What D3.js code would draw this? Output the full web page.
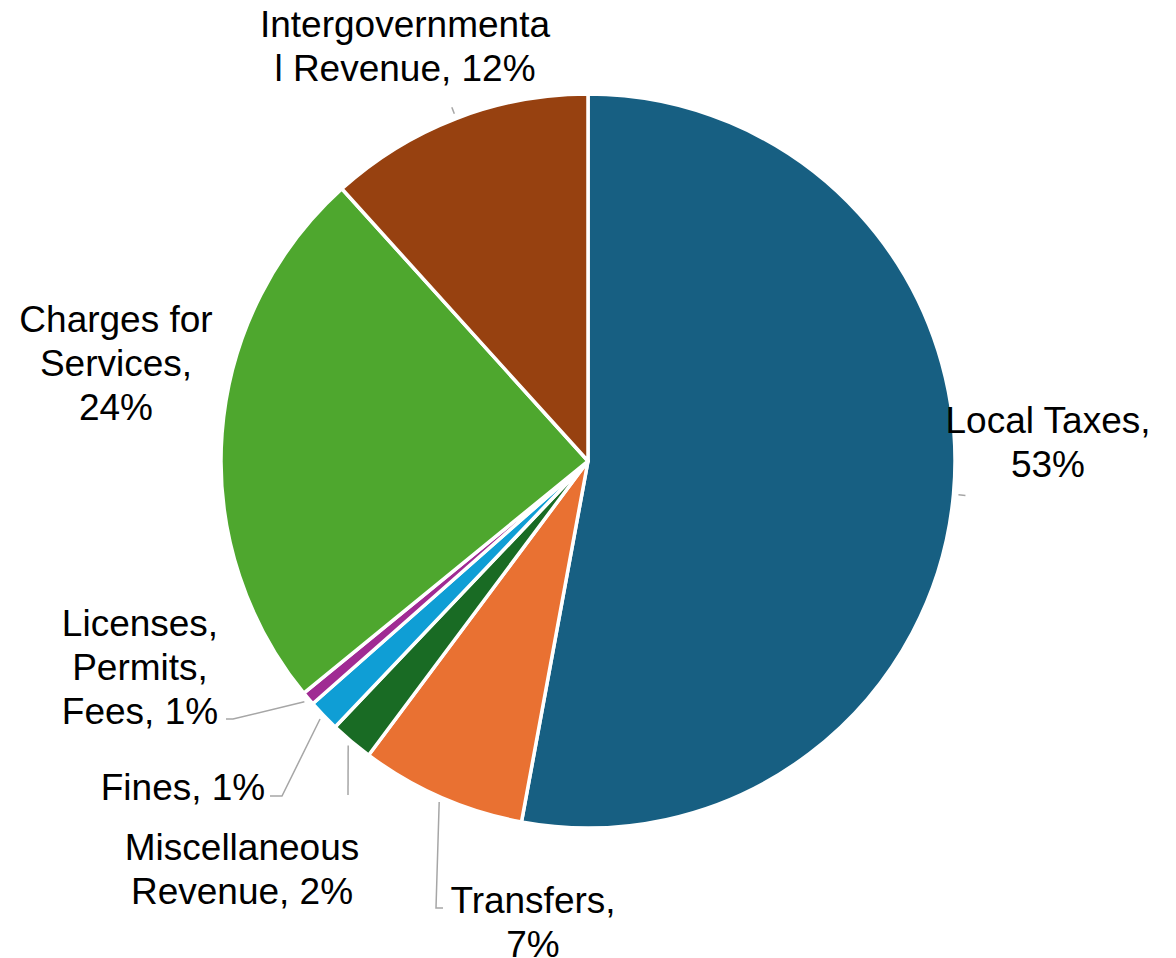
<!DOCTYPE html>
<html>
<head>
<meta charset="utf-8">
<script src="https://cdn.jsdelivr.net/npm/d3@7/dist/d3.min.js"></script>
<style>
  html, body { margin: 0; padding: 0; background: #ffffff; }
  svg { display: block; }
  text { font-family: "Liberation Sans", Arial, sans-serif; font-size: 37px; fill: #000; }
</style>
</head>
<body>
<svg id="chart" width="1176" height="958"></svg>
<script>
// Revenue sources, clockwise from 12 o'clock (percent of total)
const categories = [
  "Local Taxes",
  "Transfers",
  "Miscellaneous Revenue",
  "Fines",
  "Licenses, Permits, Fees",
  "Charges for Services",
  "Intergovernmental Revenue"
];
const shares = [52.9, 7.3, 1.9, 1.4, 0.6, 24.2, 11.7];
const colors = ["#175f82", "#e97132", "#196b24", "#0f9ed5", "#a02b93", "#4ea72e", "#974110"];

// Label text lines (the name part; the percentage is appended from the data)
const labelLines = [
  ["Local Taxes,", "{p}"],
  ["Transfers,", "{p}"],
  ["Miscellaneous", "Revenue, {p}"],
  ["Fines, {p}"],
  ["Licenses,", "Permits,", "Fees, {p}"],
  ["Charges for", "Services,", "{p}"],
  ["Intergovernmenta", "l Revenue, {p}"]
];

// Label placement: text centre x, first baseline y, and leader path after the slice anchor
const labelLayout = [
  { x: 1048, y: 433, leader: "tick" },
  { x: 533,  y: 913, leader: [[436, 908], [443, 908]] },
  { x: 242,  y: 860, leader: [[348, 795]] },
  { x: 183,  y: 800, leader: [[282, 796], [270, 796]] },
  { x: 140,  y: 636, leader: [[233, 719], [226, 719]] },
  { x: 116,  y: 332, leader: null },
  { x: 405,  y: 37,  leader: "tick" }
];

const cx = 588, cy = 461, radius = 367, lineHeight = 44;

const svg = d3.select("#chart");
const g = svg.append("g").attr("transform", `translate(${cx},${cy})`);

const pie = d3.pie().sort(null).value(d => d.value);
const data = categories.map((c, i) => ({ name: c, value: shares[i], color: colors[i], i }));
const arcs = pie(data);

const arc = d3.arc().innerRadius(0).outerRadius(radius);

g.selectAll("path.slice")
  .data(arcs)
  .join("path")
  .attr("class", "slice")
  .attr("d", arc)
  .attr("fill", d => d.data.color)
  .attr("stroke", "#ffffff")
  .attr("stroke-width", 3.5)
  .attr("stroke-linejoin", "round");

// Point on a ray from the centre at a given angle (absolute page coords)
function polar(angle, r) {
  return [cx + r * Math.sin(angle), cy - r * Math.cos(angle)];
}

// Leader lines
const leaderR = 372;
const lines = svg.append("g")
  .attr("fill", "none")
  .attr("stroke", "#a6a6a6")
  .attr("stroke-width", 1.5);

arcs.forEach((a, i) => {
  const lay = labelLayout[i];
  if (!lay.leader) return;
  const mid = (a.startAngle + a.endAngle) / 2;
  let pts;
  if (lay.leader === "tick") {
    pts = [polar(mid, leaderR), polar(mid, leaderR + 7)];
  } else {
    pts = [polar(mid, leaderR), ...lay.leader];
  }
  lines.append("path").attr("d", d3.line()(pts));
});

// Labels
const labels = svg.append("g").attr("text-anchor", "middle");
arcs.forEach((a, i) => {
  const lay = labelLayout[i];
  const pct = Math.round(a.data.value) + "%";
  const t = labels.append("text");
  labelLines[i].forEach((ln, k) => {
    t.append("tspan")
      .attr("x", lay.x)
      .attr("y", lay.y + k * lineHeight)
      .text(ln.replace("{p}", pct));
  });
});
</script>
</body>
</html>
